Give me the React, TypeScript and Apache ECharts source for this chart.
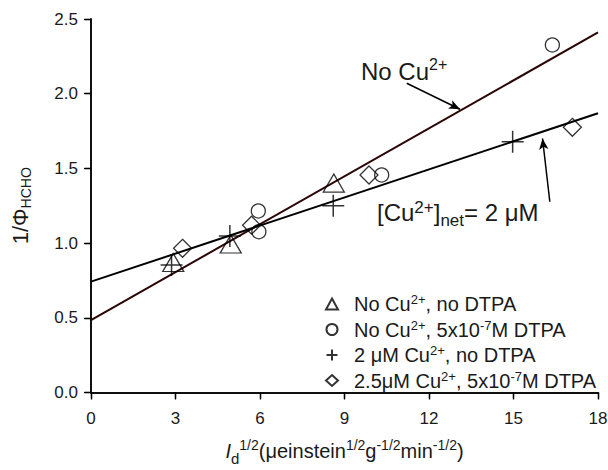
import { useEffect, useRef } from "react";
import * as echarts from "echarts";

// Axis ranges and tick spacing
const xRange = [0, 18];
const xStep = 3;
const yRange = [0, 2.5];
const yStep = 0.5;

// Measured points, one pair of arrays per condition
const triX = [2.92, 4.96, 8.62];
const triY = [0.87, 0.994, 1.402];
const circX = [5.94, 5.96, 10.32, 16.38];
const circY = [1.215, 1.076, 1.456, 2.326];
const plusX = [2.86, 4.93, 8.6, 14.97];
const plusY = [0.853, 1.047, 1.25, 1.679];
const diaX = [3.25, 5.7, 9.87, 17.09];
const diaY = [0.965, 1.12, 1.456, 1.775];

// Fitted straight lines, evaluated at both ends of the x range
const fitX = [0, 18];
const fitNoCu = [0.485, 2.41];
const fitCu = [0.742, 1.869];

// Annotation arrows: [start, end] in data units
const arrowNoCu = [[11.21, 2.07], [13.1, 1.896]];
const arrowCu = [[16.29, 1.277], [16.03, 1.7]];

const legendNames = ["tri", "circ", "plus", "dia"];
const legendLabels: Record<string, string> = {
  tri: "{n|No Cu}{s|2+}{n|, no DTPA}",
  circ: "{n|No Cu}{s|2+}{n|, 5x10}{s|-7}{n|M DTPA}",
  plus: "{n|2 μM Cu}{s|2+}{n|, no DTPA}",
  dia: "{n|2.5μM Cu}{s|2+}{n|, 5x10}{s|-7}{n|M DTPA}",
};

const FONT = "'Liberation Sans', Arial, Helvetica, sans-serif";
const INK = "#1a1a1a";

const zip = (xs: number[], ys: number[]) => xs.map((x, i) => [x, ys[i]]);

const markerStyle = {
  color: "transparent",
  borderColor: "#000",
  borderWidth: 1.3,
};

export default function App() {
  const ref = useRef<HTMLDivElement>(null);

  useEffect(() => {
    if (!ref.current) return;
    const chart = echarts.init(ref.current, null, { renderer: "svg" });

    const axisLine = { show: true, lineStyle: { color: "#000", width: 1.5 } };

    chart.setOption({
      animation: false,
      backgroundColor: "#fff",
      grid: {
        left: 91,
        right: 10,
        top: 19,
        bottom: 77.5,
        containLabel: false,
        outerBoundsMode: "none",
      },
      xAxis: [
        {
          type: "value",
          position: "bottom",
          min: xRange[0],
          max: xRange[1],
          interval: xStep,
          axisLine,
          axisTick: { show: true, inside: false, length: 7, lineStyle: { color: "#000", width: 1.3 } },
          splitLine: { show: false },
          axisLabel: { fontSize: 17, color: INK, fontFamily: FONT, margin: 17 },
          name: "{i|I}{d|d}{s|1/2}{n|(μeinstein}{s|1/2}{n|g}{s|-1/2}{n|min}{s|-1/2}{n|)}",
          nameLocation: "middle",
          nameGap: 44,
          nameTextStyle: {
            color: INK,
            fontFamily: FONT,
            rich: {
              i: { fontSize: 20, fontStyle: "italic", fontFamily: FONT, color: INK },
              d: { fontSize: 15, fontFamily: FONT, color: INK, padding: [14, 0, 0, 0] },
              s: { fontSize: 14, fontFamily: FONT, color: INK, padding: [0, 0, 12, 0] },
              n: { fontSize: 20, fontFamily: FONT, color: INK },
            },
          },
        },
        {
          type: "value",
          position: "top",
          min: xRange[0],
          max: xRange[1],
          interval: xStep,
          axisLine,
          axisTick: { show: true, inside: true, length: 6, lineStyle: { color: "#000", width: 1.3 } },
          splitLine: { show: false },
          axisLabel: { show: false },
        },
      ],
      yAxis: [
        {
          type: "value",
          position: "left",
          min: yRange[0],
          max: yRange[1],
          interval: yStep,
          axisLine,
          axisTick: { show: true, inside: false, length: 7, lineStyle: { color: "#000", width: 1.3 } },
          splitLine: { show: false },
          axisLabel: {
            fontSize: 17,
            color: INK,
            fontFamily: FONT,
            margin: 13,
            formatter: (v: number) => v.toFixed(1),
          },
          name: "{a|1/Φ}{b|HCHO}",
          nameLocation: "middle",
          nameRotate: 90,
          nameGap: 58,
          nameTextStyle: {
            color: INK,
            fontFamily: FONT,
            rich: {
              a: { fontSize: 22, fontFamily: FONT, color: INK },
              b: { fontSize: 14, fontFamily: FONT, color: INK, padding: [11, 0, 0, 0] },
            },
          },
        },
        {
          type: "value",
          position: "right",
          min: yRange[0],
          max: yRange[1],
          interval: yStep,
          axisLine,
          axisTick: { show: true, inside: true, length: 6, lineStyle: { color: "#000", width: 1.3 } },
          splitLine: { show: false },
          axisLabel: { show: false },
        },
      ],
      legend: {
        data: legendNames,
        orient: "vertical",
        left: 320,
        top: 288,
        itemWidth: 12,
        itemHeight: 11,
        itemGap: 4.5,
        selectedMode: false,
        formatter: (name: string) => legendLabels[name],
        textStyle: {
          padding: [0, 0, 0, 11],
          color: INK,
          fontFamily: FONT,
          rich: {
            n: { fontSize: 20, fontFamily: FONT, color: INK, lineHeight: 21 },
            s: { fontSize: 13, fontFamily: FONT, color: INK, padding: [0, 0, 9, 0] },
          },
        },
      },
      series: [
        {
          name: "fitNoCu",
          type: "line",
          data: zip(fitX, fitNoCu),
          showSymbol: false,
          silent: true,
          lineStyle: { color: "#2a0505", width: 2 },
          z: 2,
          markLine: {
            silent: true,
            symbol: ["none", "arrow"],
            symbolSize: [7, 11],
            label: { show: false },
            lineStyle: { color: "#000", width: 1.5, type: "solid" },
            data: [
              [{ coord: arrowNoCu[0] }, { coord: arrowNoCu[1] }],
              [{ coord: arrowCu[0] }, { coord: arrowCu[1] }],
            ],
          },
        },
        {
          name: "fitCu",
          type: "line",
          data: zip(fitX, fitCu),
          showSymbol: false,
          silent: true,
          lineStyle: { color: "#000", width: 2 },
          z: 2,
        },
        {
          name: "tri",
          type: "scatter",
          symbol: "triangle",
          symbolSize: [21, 18],
          itemStyle: markerStyle,
          data: zip(triX, triY),
          z: 3,
        },
        {
          name: "circ",
          type: "scatter",
          symbol: "circle",
          symbolSize: 14,
          itemStyle: markerStyle,
          data: zip(circX, circY),
          z: 3,
        },
        {
          name: "plus",
          type: "scatter",
          symbol: "path://M5,0L5,10M0,5L10,5",
          symbolSize: 22,
          itemStyle: { color: "transparent", borderColor: "#000", borderWidth: 1.5 },
          data: zip(plusX, plusY),
          z: 3,
        },
        {
          name: "dia",
          type: "scatter",
          symbol: "diamond",
          symbolSize: 18,
          itemStyle: markerStyle,
          data: zip(diaX, diaY),
          z: 3,
        },
      ],
      graphic: [
        {
          type: "text",
          x: 361,
          y: 71,
          style: {
            text: "{a|No Cu}{s|2+}",
            verticalAlign: "middle",
            align: "left",
            rich: {
              a: { fontSize: 24, fontFamily: FONT, fill: INK },
              s: { fontSize: 16, fontFamily: FONT, fill: INK, padding: [0, 0, 13, 0] },
            },
          },
        },
        {
          type: "text",
          x: 377,
          y: 212,
          style: {
            text: "{a|[Cu}{s|2+}{a|]}{b|net}{a|= 2 μM}",
            verticalAlign: "middle",
            align: "left",
            rich: {
              a: { fontSize: 24, fontFamily: FONT, fill: INK },
              s: { fontSize: 17, fontFamily: FONT, fill: INK, padding: [0, 0, 9, 0] },
              b: { fontSize: 17, fontFamily: FONT, fill: INK, padding: [17, 0, 0, 0] },
            },
          },
        },
      ],
    });

    return () => chart.dispose();
  }, []);

  return (
    <div
      ref={ref}
      style={{ position: "absolute", left: 0, top: 0, width: 608, height: 470 }}
    />
  );
}
